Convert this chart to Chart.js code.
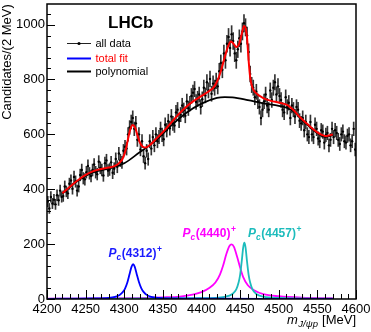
<!DOCTYPE html>
<html><head><meta charset="utf-8">
<script src="https://cdn.jsdelivr.net/npm/chart.js@4"></script>
<style>html,body{margin:0;padding:0;background:#fff;}#wrap{width:371px;height:332px;position:relative}</style>
</head><body><div id="wrap"><canvas id="c" width="371" height="332"></canvas></div>
<script>
// ---- data: candidates per 2 MeV bin, bin centres 4201, 4203, ... 4599 ----
const binFirstCentre = 4201;
const binWidth = 2;
const counts = [
  355, 330, 372, 348, 362, 345, 378, 360, 395, 372,
  375, 410, 392, 385, 420, 432, 402, 445, 428, 395, 410, 452, 470, 440, 436, 462, 485, 458, 448, 470,
  490, 462, 455, 500, 478, 470, 450, 495, 505, 468, 472, 498, 460, 475, 510, 482, 530, 505, 498, 540,
  555, 548, 600, 625, 645, 660, 620, 640, 580, 600, 545, 575, 520, 495, 540, 510, 575, 548, 590, 560,
  600, 575, 590, 620, 598, 582, 635, 615, 648, 622, 665, 640, 632, 680, 690, 650, 672, 705, 688, 668,
  720, 695, 712, 740, 752, 765, 718, 730, 745, 700, 728, 770, 742, 790, 760, 802, 748, 785, 770, 795,
  775, 830, 860, 835, 895, 870, 930, 955, 915, 965, 940, 895, 870, 910, 950, 930, 975, 1005, 990, 960,
  900, 820, 780, 770, 735, 755, 720, 700, 660, 690, 720, 745, 705, 690, 760, 725, 770, 790, 745, 775,
  740, 725, 690, 680, 735, 700, 715, 660, 705, 690, 665, 700, 690, 650, 640, 660, 615, 645, 600, 590,
  645, 600, 590, 635, 620, 585, 575, 615, 610, 570, 598, 605, 560, 580, 620,
  590, 615, 605, 580, 565, 600, 610, 575, 570, 595, 600, 560, 575, 620, 545
];

// ---- total fit ----
const fitMass = [4220,4230,4240,4250,4260,4270,4280,4288,4294,4298,4302,4305,4308,4311,4314,4317,4320,4324,4328,4334,4340,4350,4360,4370,4380,4390,4400,4410,4416,4421,4425,4430,4434,4438,4441,4445,4449,4452,4455,4457,4459,4461,4463,4466,4470,4480,4490,4500,4510,4515,4520,4525,4530,4540,4550,4555,4560,4565,4570];
const fitValues = [385,410,433,452,466,474,479,485,497,512,545,585,620,634,625,598,572,555,552,563,580,608,640,672,700,722,740,758,772,798,830,880,918,938,932,918,932,965,995,988,950,870,808,770,752,732,722,716,708,699,686,670,656,630,607,599,594,596,600];

// ---- polynomial background ----
const polyMass = [4220,4240,4260,4280,4300,4320,4340,4360,4380,4400,4420,4430,4440,4460,4480,4500,4510,4520,4530,4540,4550,4560,4570];
const polyValues = [384,431,462,476,495,535,575,630,678,712,733,736,735,725,713,704,697,682,652,627,604,591,597];

// ---- Pc(4312)+ ----
const pc4312Mass = [4200,4260,4280,4288,4294,4298,4301,4304,4307,4309.5,4311.5,4313.5,4316,4319,4322,4325,4329,4335,4345,4365,4420,4500,4570];
const pc4312Values = [0.5,2,4,8,15,25,38,60,92,118,127,118,92,62,40,26,15,8,4,2,1,0.5,0.3];

// ---- Pc(4440)+ ----
const pc4440Mass = [4200,4300,4350,4372,4390,4400,4410,4418,4424,4428,4432,4436,4439,4442,4446,4450,4454,4460,4468,4480,4500,4530,4570];
const pc4440Values = [1,3,6,9,17,25,40,60,90,122,162,192,199,190,155,115,80,50,32,18,10,5,3];

// ---- Pc(4457)+ ----
const pc4457Mass = [4200,4400,4430,4440,4445,4448,4450,4452,4454,4455.5,4457,4459,4461,4463,4466,4471,4480,4500,4570];
const pc4457Values = [0.5,3,8,18,35,60,88,135,188,205,188,135,88,60,35,18,9,4,1];

// ---- axes ----
const xTickValues = [4200,4250,4300,4350,4400,4450,4500,4550,4600];
const yTickValues = [0,200,400,600,800,1000];
const xRange = [4200, 4600];
const yRange = [0, 1075];

const FONT = "'Liberation Sans', Arial, Helvetica, sans-serif";
const pts = (xs, ys) => xs.map((x, i) => ({x: x, y: ys[i]}));
const binCentres = counts.map((_, i) => binFirstCentre + i * binWidth);
const dataPts = counts.map((c, i) => ({x: binCentres[i], y: c}));
const errBars = counts.map((c, i) => ({x: binCentres[i], y: [c - Math.sqrt(c), c + Math.sqrt(c)]}));

function curve(label, data, color, width, order) {
  return {type: 'line', label, data, borderColor: color, borderWidth: width, pointRadius: 0,
    fill: false, cubicInterpolationMode: 'monotone', order};
}

const decor = {
  id: 'decor',
  afterDraw(chart) {
    const ctx = chart.ctx, a = chart.chartArea, xs = chart.scales.x, ys = chart.scales.y;
    ctx.save();
    ctx.strokeStyle = '#000';
    ctx.lineWidth = 1;
    // y ticks (inward)
    for (let v = yRange[0]; v <= yRange[1]; v += 40) {
      const y = Math.round(ys.getPixelForValue(v)) + 0.5;
      const len = (v % 200 === 0) ? 8 : 4;
      ctx.beginPath(); ctx.moveTo(a.left, y); ctx.lineTo(a.left + len, y); ctx.stroke();
    }
    // x ticks (inward)
    for (let v = xRange[0]; v <= xRange[1]; v += 10) {
      const x = Math.round(xs.getPixelForValue(v)) + 0.5;
      const len = (v % 50 === 0) ? 9 : 5;
      ctx.beginPath(); ctx.moveTo(x, a.bottom); ctx.lineTo(x, a.bottom - len); ctx.stroke();
    }
    // frame
    ctx.lineWidth = 1.5;
    ctx.strokeRect(a.left, a.top, a.right - a.left, a.bottom - a.top);

    // LHCb
    ctx.fillStyle = '#000';
    ctx.textAlign = 'left'; ctx.textBaseline = 'alphabetic';
    ctx.font = 'bold 17px ' + FONT;
    ctx.fillText('LHCb', 108, 28);

    // legend
    ctx.font = '11px ' + FONT;
    ctx.textBaseline = 'middle';
    const lx0 = 67, lx1 = 91, tx = 95.5;
    const rows = [43.5, 58.5, 71.5];
    ctx.lineWidth = 1; ctx.strokeStyle = '#222';
    ctx.beginPath(); ctx.moveTo(lx0, rows[0]); ctx.lineTo(lx1, rows[0]); ctx.stroke();
    ctx.beginPath(); ctx.arc((lx0 + lx1) / 2, rows[0], 1.6, 0, Math.PI * 2); ctx.fill();
    ctx.fillText('all data', tx, rows[0]);
    ctx.lineWidth = 2; ctx.strokeStyle = '#0000ff';
    ctx.beginPath(); ctx.moveTo(lx0, rows[1]); ctx.lineTo(lx1, rows[1]); ctx.stroke();
    ctx.fillStyle = '#ff0000'; ctx.fillText('total fit', tx, rows[1]);
    ctx.strokeStyle = '#000'; ctx.fillStyle = '#000';
    ctx.beginPath(); ctx.moveTo(lx0, rows[2]); ctx.lineTo(lx1, rows[2]); ctx.stroke();
    ctx.fillText('polynomial', tx, rows[2]);

    // Pc labels
    function pcLabel(x0, base, num, color) {
      ctx.fillStyle = color; ctx.textBaseline = 'alphabetic'; ctx.textAlign = 'left';
      let x = x0;
      ctx.font = 'italic bold 12px ' + FONT; ctx.fillText('P', x, base); x += ctx.measureText('P').width;
      ctx.font = 'italic bold 8.5px ' + FONT; ctx.fillText('c', x, base + 3); x += ctx.measureText('c').width + 0.5;
      ctx.font = 'bold 12px ' + FONT; ctx.fillText('(' + num + ')', x, base); x += ctx.measureText('(' + num + ')').width + 0.5;
      ctx.font = 'bold 8.5px ' + FONT; ctx.fillText('+', x, base - 5);
    }
    pcLabel(108.5, 256.5, '4312', '#1a1aff');
    pcLabel(182.5, 237, '4440', '#ff00ff');
    pcLabel(248, 237, '4457', '#1cbcbc');

    // y title
    ctx.save();
    ctx.fillStyle = '#000';
    ctx.font = '13px ' + FONT;
    ctx.translate(10.5, 62); ctx.rotate(-Math.PI / 2);
    ctx.textAlign = 'center'; ctx.textBaseline = 'alphabetic';
    ctx.fillText('Candidates/(2 MeV)', 0, 0);
    ctx.restore();

    // x title (right aligned)
    ctx.fillStyle = '#000'; ctx.textAlign = 'left'; ctx.textBaseline = 'alphabetic';
    const base = 324;
    ctx.font = '13px ' + FONT; const wUnit = ctx.measureText(' [MeV]').width;
    ctx.font = 'italic 9.5px ' + FONT; const wSub = ctx.measureText('J/ψp').width;
    ctx.font = 'italic 13px ' + FONT; const wM = ctx.measureText('m').width;
    let x = 356 - wUnit - wSub - wM - 1;
    ctx.fillText('m', x, base); x += wM + 0.5;
    ctx.font = 'italic 9.5px ' + FONT; ctx.fillText('J/ψp', x, base + 3); x += wSub + 0.5;
    ctx.font = '13px ' + FONT; ctx.fillText(' [MeV]', x, base);
    ctx.restore();
  }
};

new Chart(document.getElementById('c'), {
  type: 'line',
  data: {
    datasets: [
      curve('total fit', pts(fitMass, fitValues), '#ff0000', 2, 0),
      curve('polynomial', pts(polyMass, polyValues), '#000000', 1.7, 1),
      curve('Pc(4312)+', pts(pc4312Mass, pc4312Values), '#0000ff', 1.8, 2),
      curve('Pc(4457)+', pts(pc4457Mass, pc4457Values), '#1cbcbc', 1.8, 3),
      curve('Pc(4440)+', pts(pc4440Mass, pc4440Values), '#ff00ff', 1.8, 4),
      {type: 'line', label: 'all data', data: dataPts, showLine: false, pointRadius: 1.2,
        pointBackgroundColor: '#000', pointBorderWidth: 0, order: 5},
      {type: 'bar', label: 'errors', data: errBars, backgroundColor: '#333', borderWidth: 0,
        barThickness: 1, grouped: false, order: 6}
    ]
  },
  options: {
    responsive: false, animation: false, devicePixelRatio: 1,
    layout: {padding: {left: 0, right: 15, top: 1, bottom: 0}},
    plugins: {legend: {display: false}, tooltip: {enabled: false}},
    scales: {
      x: {type: 'linear', min: xRange[0], max: xRange[1], offset: false,
        grid: {display: false, drawTicks: false}, border: {display: false},
        afterBuildTicks: s => { s.ticks = xTickValues.map(v => ({value: v})); },
        afterFit: s => { s.height = 33; s.paddingLeft = 0; s.paddingRight = 0; },
        ticks: {font: {family: FONT, size: 13}, color: '#000', padding: 3, maxRotation: 0, autoSkip: false,
          callback: v => String(v)}},
      y: {type: 'linear', min: yRange[0], max: yRange[1],
        grid: {display: false, drawTicks: false}, border: {display: false},
        afterBuildTicks: s => { s.ticks = yTickValues.map(v => ({value: v})); },
        afterFit: s => { s.width = 47; s.paddingTop = 0; s.paddingBottom = 0; },
        ticks: {font: {family: FONT, size: 13}, color: '#000', padding: 2, autoSkip: false,
          callback: v => String(v)}}
    }
  },
  plugins: [decor]
});
</script></body></html>
